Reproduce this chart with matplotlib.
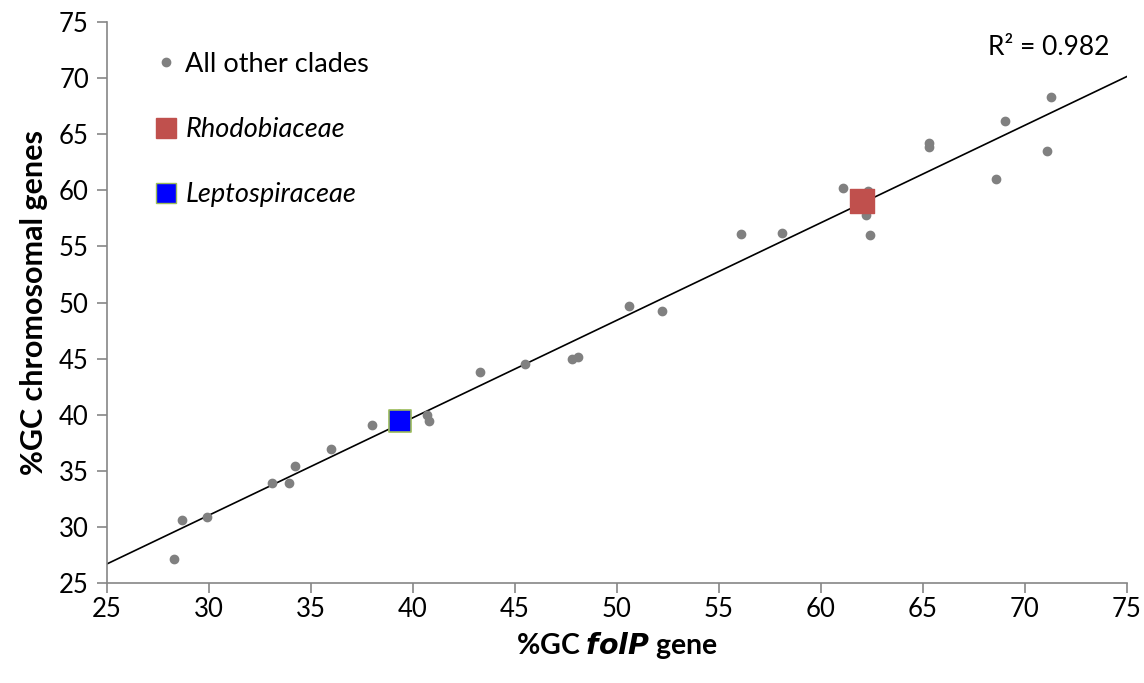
import numpy as np
import matplotlib
matplotlib.use("Agg")
from matplotlib import pyplot as plt
from matplotlib.lines import Line2D

plt.rcParams['font.family'] = ['Lato', 'DejaVu Sans']

# %GC folP gene vs %GC chromosomal genes, all other clades
other_x = [28.3, 28.7, 29.9, 33.1, 33.9, 34.2, 36.0, 38.0, 39.3, 40.7, 40.8,
           43.3, 45.5, 47.8, 48.1, 50.6, 52.2, 56.1, 58.1, 61.1, 62.3, 62.2,
           62.4, 65.3, 65.3, 68.6, 69.0, 71.1, 71.3]
other_y = [27.1, 30.6, 30.9, 33.9, 33.9, 35.4, 36.9, 39.1, 40.1, 40.0, 39.4,
           43.8, 44.5, 45.0, 45.1, 49.7, 49.2, 56.1, 56.2, 60.2, 59.9, 57.8,
           56.0, 64.2, 63.9, 61.0, 66.2, 63.5, 68.3]
rhodo_x, rhodo_y = [62.0], [59.05]
lepto_x, lepto_y = [39.35], [39.4]

all_x = np.array(other_x + rhodo_x + lepto_x)
all_y = np.array(other_y + rhodo_y + lepto_y)
slope, intercept = np.polyfit(all_x, all_y, 1)
r2 = np.corrcoef(all_x, all_y)[0, 1] ** 2

fig = plt.figure(figsize=(11.44, 6.83), dpi=100)
ax = fig.add_axes([0.0935, 0.1464, 0.8916, 0.8214])

line_x = np.array([25, 75])
ax.plot(line_x, slope * line_x + intercept, color='black', lw=1.2, zorder=1)

ax.scatter(other_x, other_y, s=36, color='#808080', zorder=2)
ax.scatter(rhodo_x, rhodo_y, s=300, marker='s', color='#c0504d', zorder=3)
ax.scatter(lepto_x, lepto_y, s=260, marker='s', color='#0000ff',
           edgecolor='#9bbb59', linewidth=1.2, zorder=3)

ax.set_xlim(25, 75)
ax.set_ylim(25, 75)
ax.set_xticks(range(25, 76, 5))
ax.set_yticks(range(25, 76, 5))
for side in ['top', 'right']:
    ax.spines[side].set_visible(False)
for side in ['left', 'bottom']:
    ax.spines[side].set_color('#868686')
    ax.spines[side].set_linewidth(1.2)
ax.tick_params(direction='out', length=7, width=1.2, color='#868686',
               labelsize=18.5, pad=6)
ax.tick_params(axis='x', pad=3)

ax.set_xlabel('%GC $\\mathbfit{folP}$ gene', fontsize=20.5, fontweight='bold',
              labelpad=6)
ax.set_ylabel('%GC chromosomal genes', fontsize=22, fontweight='bold',
              labelpad=8)

handles = [
    Line2D([], [], ls='', marker='o', ms=6, color='#808080'),
    Line2D([], [], ls='', marker='s', ms=15, color='#c0504d'),
    Line2D([], [], ls='', marker='s', ms=15, color='#0000ff',
           markeredgecolor='#9bbb59'),
]
leg = ax.legend(handles, ['All other clades', 'Rhodobiaceae', 'Leptospiraceae'],
                loc='upper left', bbox_to_anchor=(0.025, 0.99), frameon=False,
                fontsize=19.5, labelspacing=1.48, handlelength=0.7,
                handletextpad=0.35)
for t in leg.get_texts()[1:]:
    t.set_style('italic')

ax.text(0.983, 0.955, 'R² = %.3f' % r2, transform=ax.transAxes,
        ha='right', va='center', fontsize=19)

fig.savefig('out.png', dpi=100)
